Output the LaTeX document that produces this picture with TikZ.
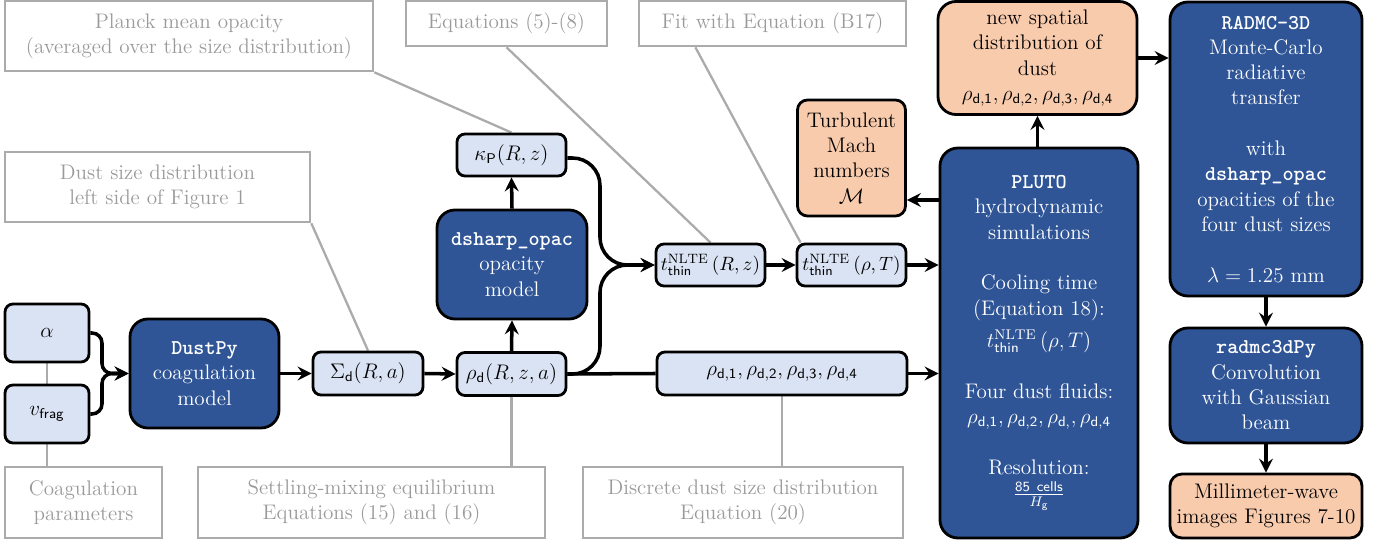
\documentclass[tikz,border=0pt]{standalone}
\usepackage{fontspec}
\usetikzlibrary{arrows.meta,calc}
\definecolor{dblue}{HTML}{2F5597}
\definecolor{lblue}{HTML}{DAE3F3}
\definecolor{orng}{HTML}{F8CBAD}
\definecolor{gborder}{HTML}{ABABAB}
\definecolor{gtext}{HTML}{9A9A9A}
\pgfdeclarelayer{bg}\pgfsetlayers{bg,main}
\tikzset{
 base/.style={align=center, inner sep=0pt, font=\fontsize{12}{14.4}\selectfont},
 graybox/.style={base, draw=gborder, line width=1.5pt, text=gtext},
 lightbox/.style={base, draw=black, line width=1.6pt, fill=lblue, rounded corners=1.6mm},
 darkbox/.style={base, draw=black, line width=1.6pt, fill=dblue, text=white, rounded corners=3.6mm},
 orangebox/.style={base, draw=black, line width=1.6pt, fill=orng, rounded corners=3.6mm},
 arr/.style={line width=2pt, -{Stealth[length=2.8mm,width=2.8mm,inset=1mm]}},
 link/.style={line width=2pt},
 glink/.style={draw=gborder, line width=1.3pt},
 small/.style={font=\fontsize{11}{13}\selectfont},
}
\newcommand{\code}[1]{{\ttfamily\bfseries #1}}
\newcommand{\rholist}[1]{$\rho_{\mathsf{d,1}},\rho_{\mathsf{d,2}},\rho_{\mathsf{d,#1}},\rho_{\mathsf{d,4}}$}
\newcommand{\tthin}[1]{$t^{\mathrm{NLTE}}_{\mathsf{thin}}\,(#1)$}
\begin{document}
\begin{tikzpicture}[x=0.2mm,y=-0.2mm]
\useasboundingbox (0,0) rectangle (1390,544);
% gray annotation boxes
\node[graybox, minimum width=73.6mm, minimum height=14mm] (planck) at (189,36) {Planck mean opacity\\(averaged over the size distribution)};
\node[graybox, minimum width=40.2mm, minimum height=9mm] (eqs) at (506.5,23.5) {Equations (5)-(8)};
\node[graybox, minimum width=53.4mm, minimum height=9mm] (fit) at (772.5,23.5) {Fit with Equation (B17)};
\node[graybox, minimum width=61mm, minimum height=14mm] (dsd) at (157.5,187) {Dust size distribution\\left side of Figure 1};
\node[graybox, minimum width=31.4mm, minimum height=14.2mm] (coag) at (83.5,502.5) {Coagulation\\parameters};
\node[graybox, minimum width=69.4mm, minimum height=14.2mm] (settle) at (371.5,502.5) {Settling-mixing equilibrium\\Equations (15) and (16)};
\node[graybox, minimum width=64mm, minimum height=14.2mm] (discr) at (743,502.5) {Discrete dust size distribution\\Equation (20)};
% light blue
\node[lightbox, minimum width=16.8mm, minimum height=11.6mm] (alpha) at (47,333) {$\alpha$};
\node[lightbox, minimum width=16.8mm, minimum height=11.6mm] (vfrag) at (47,414) {$v_{\mathsf{frag}}$};
\node[lightbox, minimum width=22mm, minimum height=8.6mm] (sigma) at (368,373.5) {$\Sigma_{\mathsf{d}}(R,a)$};
\node[lightbox, minimum width=21.8mm, minimum height=8.6mm] (rhod) at (511.5,374) {$\rho_{\mathsf{d}}(R,z,a)$};
\node[lightbox, minimum width=21.8mm, minimum height=8.4mm] (kappa) at (511.5,155) {$\kappa_{\mathsf{P}}(R,z)$};
\node[lightbox, small, minimum width=21.8mm, minimum height=8.4mm] (tRz) at (710.5,265) {\tthin{R,z}};
\node[lightbox, small, minimum width=21.8mm, minimum height=8.4mm] (trhoT) at (851.5,265) {\tthin{\rho,T}};
\node[lightbox, minimum width=50mm, minimum height=8.6mm] (rlist) at (782,373.5) {\rholist{3}};
% dark blue
\node[darkbox, minimum width=29.8mm, minimum height=21.8mm] (dustpy) at (204.5,373.5) {\code{DustPy}\\coagulation\\model};
\node[darkbox, minimum width=30mm, minimum height=21.8mm] (dsharp) at (512,264.5) {\code{dsharp\_opac}\\opacity\\model};
\node[darkbox, minimum width=39.6mm, minimum height=78mm] (pluto) at (1039,343) {\code{PLUTO}\\hydrodynamic\\simulations\\[14.4pt]Cooling time\\(Equation 18):\\[4pt]\tthin{\rho,T}\\[14.4pt]Four dust fluids:\\\rholist{}\\[14.4pt]Resolution:\\$\frac{\mathsf{85\ cells}}{H_{\mathsf{g}}}$};
\node[darkbox, minimum width=38.4mm, minimum height=58.8mm] (radmc) at (1266,149) {\code{RADMC-3D}\\Monte-Carlo\\radiative\\transfer\\[14.4pt]with\\\code{dsharp\_opac}\\opacities of the\\four dust sizes\\[14.4pt]$\lambda=1.25$ mm};
\node[darkbox, minimum width=38.4mm, minimum height=23mm] (radpy) at (1266,385.5) {\code{radmc3dPy}\\Convolution\\with Gaussian\\beam};
% orange
\node[orangebox, minimum width=38.4mm, minimum height=12.8mm, rounded corners=2.4mm] (mm) at (1266,506) {Millimeter-wave\\images Figures 7-10};
\node[orangebox, minimum width=39.8mm, minimum height=22.6mm] (newsp) at (1037.5,58) {new spatial\\distribution of\\dust\\\rholist{3}};
\node[orangebox, minimum width=21.6mm, minimum height=23.2mm, rounded corners=2mm] (turb) at (851.5,158) {Turbulent\\Mach\\numbers\\$\mathcal{M}$};
% helper coordinates
\coordinate (j1) at (102,373.5);
\coordinate (j2) at (600,265);
\coordinate (tb) at (0,200);
% gray connectors
\begin{pgfonlayer}{bg}
\draw[glink] (alpha.south) -- (vfrag.north);
\draw[glink] (vfrag.south) -- (vfrag.south |- coag.north);
\draw[glink] (planck.south east) -- (kappa.north);
\draw[glink] (dsd.south east) -- (sigma.north);
\draw[glink] (eqs.south) -- (tRz.north);
\draw[glink] ($(fit.south west)!0.214!(fit.south east)$) -- ($(trhoT.north west)+(5,0)$);
\draw[glink] (rhod.south) -- (rhod.south |- settle.north);
\draw[glink] (rlist.south) -- (rlist.south |- discr.north);
\end{pgfonlayer}
% black connectors
\draw[arr, rounded corners=2mm] (alpha.east) -| (j1) -- (dustpy.west);
\draw[arr, rounded corners=2mm] (vfrag.east) -| (j1) -- (dustpy.west);
\draw[arr] (dustpy.east) -- (sigma.west);
\draw[arr] (sigma.east) -- (rhod.west);
\draw[arr] (rhod.north) -- (dsharp.south);
\draw[arr] (dsharp.north) -- (kappa.south);
\draw[arr, rounded corners=5.5mm] ([yshift=-0.6mm]kappa.east) -| (j2) -- (tRz.west);
\draw[arr, rounded corners=5.5mm] (rhod.east) -| (j2) -- (tRz.west);
\draw[link] (rhod.east) -- (rlist.west);
\draw[arr] (tRz.east) -- (trhoT.west);
\draw[arr] (trhoT.east) -- (pluto.west |- trhoT.east);
\draw[arr] (rlist.east) -- (pluto.west |- rlist.east);
\draw[arr] (pluto.west |- tb) -- (turb.east |- tb);
\draw[arr] (newsp.south |- pluto.north) -- (newsp.south);
\draw[arr] (newsp.east) -- (radmc.west |- newsp.east);
\draw[arr] (radmc.south) -- (radpy.north);
\draw[arr] (radpy.south) -- (mm.north);
\end{tikzpicture}
\end{document}
